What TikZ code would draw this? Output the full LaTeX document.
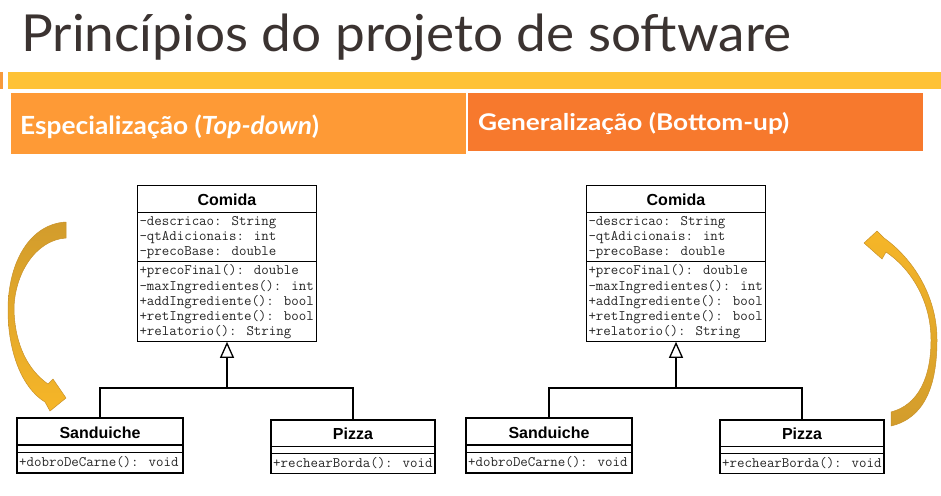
\documentclass[tikz,border=0pt]{standalone}
\usepackage{fontspec}
\setmainfont{Lato}
\newfontfamily\umlfont{Liberation Sans}
\usetikzlibrary{arrows.meta}

\definecolor{titlegray}{HTML}{3B3331}
\definecolor{baryellow}{HTML}{FEC236}
\definecolor{tickorange}{HTML}{F79A3C}
\definecolor{specorange}{HTML}{FE9A36}
\definecolor{genorange}{HTML}{F7792D}
\definecolor{golddark}{HTML}{D29C2C}
\definecolor{goldlight}{HTML}{F6B628}
\definecolor{goldline}{HTML}{C8922A}

% scale a piece of text horizontally to a given width (in pt)
\newsavebox\fitbox
\newdimen\fitw
\newcommand\fitto[2]{%
  \sbox\fitbox{#2}\fitw=\wd\fitbox
  \pgfmathsetmacro\fitratio{#1/\fitw}%
  \scalebox{\fitratio}[1]{\usebox\fitbox}}

\newcommand\umlbold{\umlfont\bfseries\fontsize{16}{19}\selectfont}
\newcommand\umlcode{\ttfamily\fontsize{14.5}{15}\selectfont}

\begin{document}
\begin{tikzpicture}[x=1pt,y=-1pt,
  band/.style={inner sep=0pt, outer sep=0pt, anchor=north west},
  headtext/.style={anchor=base west, inner sep=0pt, text=white},
  classframe/.style={draw=black, line width=1.3pt, fill=white, inner sep=0pt, outer sep=0pt},
  divider/.style={draw=black, line width=1.3pt},
  classname/.style={font=\umlbold, anchor=base, inner sep=0pt},
  codeline/.style={font=\umlcode, anchor=base west, inner sep=0pt, text=black!85},
  conn/.style={draw=black, line width=1.3pt},
  gentip/.style={-{Triangle[open, length=16pt, width=14pt, line width=1.3pt]}},
  goldarrow/.style={draw=goldline, line width=0.5pt, line join=round}]

\useasboundingbox (0,0) rectangle (941,495);
\fill[white] (0,0) rectangle (941,495);

% slide title
\node[anchor=base west, inner sep=0pt, text=titlegray] (title) at (21,52)
  {\fitto{770}{\fontsize{51}{60}\selectfont Princípios do projeto de software}};

% decorative bars
\node[band, fill=tickorange, minimum width=3pt, minimum height=17pt] (tick) at (0,72) {};
\node[band, fill=baryellow, minimum width=933pt, minimum height=17pt] (ybar) at (8,72) {};
\node[band, fill=specorange, minimum width=455pt, minimum height=61pt] (specbar) at (11,93) {};
\node[band, fill=genorange, minimum width=455pt, minimum height=58pt] (genbar) at (468,93) {};

\node[headtext] (spectext) at (20,134)
  {\fitto{299}{\bfseries\fontsize{25}{30}\selectfont Especialização (\textit{Top-down})}};
\node[headtext] (gentext) at (478,130)
  {\fitto{311}{\bfseries\fontsize{23}{28}\selectfont Generalização (Bottom-up)}};

% the two class diagrams
\foreach \s/\dx in {L/0,R/449}{
\begin{scope}[xshift=\dx pt]
  % superclass
  \node[classframe, minimum width=179.4pt, minimum height=156.6pt] (comida\s) at (227,263.5) {};
  \draw[divider] ([yshift=-27pt]comida\s.north west) -- ([yshift=-27pt]comida\s.north east);
  \draw[divider] ([yshift=-76pt]comida\s.north west) -- ([yshift=-76pt]comida\s.north east);
  \node[classname] (comida\s-name) at ([yshift=-20pt]comida\s.north) {Comida};
  \node[codeline] (comida\s-a1) at ([xshift=2pt,yshift=-40pt]comida\s.north west) {-descricao: String};
  \node[codeline] (comida\s-a2) at ([xshift=2pt,yshift=-55pt]comida\s.north west) {-qtAdicionais: int};
  \node[codeline] (comida\s-a3) at ([xshift=2pt,yshift=-70pt]comida\s.north west) {-precoBase: double};
  \node[codeline] (comida\s-m1) at ([xshift=2pt,yshift=-89.5pt]comida\s.north west) {+precoFinal(): double};
  \node[codeline] (comida\s-m2) at ([xshift=2pt,yshift=-104.8pt]comida\s.north west) {-maxIngredientes(): int};
  \node[codeline] (comida\s-m3) at ([xshift=2pt,yshift=-120.1pt]comida\s.north west) {+addIngrediente(): bool};
  \node[codeline] (comida\s-m4) at ([xshift=2pt,yshift=-135.4pt]comida\s.north west) {+retIngrediente(): bool};
  \node[codeline] (comida\s-m5) at ([xshift=2pt,yshift=-150.7pt]comida\s.north west) {+relatorio(): String};

  % subclass Sanduiche
  \node[classframe, minimum width=166pt, minimum height=55pt] (sand\s) at (100,445.5) {};
  \draw[divider] ([yshift=-27pt]sand\s.north west) -- ([yshift=-27pt]sand\s.north east);
  \draw[divider] ([yshift=-34.5pt]sand\s.north west) -- ([yshift=-34.5pt]sand\s.north east);
  \node[classname] (sand\s-name) at ([yshift=-20pt]sand\s.north) {Sanduiche};
  \node[codeline] (sand\s-m1) at ([xshift=2pt,yshift=-48.5pt]sand\s.north west) {+dobroDeCarne(): void};

  % subclass Pizza
  \node[classframe, minimum width=164pt, minimum height=53.5pt] (pizza\s) at (353,446.75) {};
  \draw[divider] ([yshift=-26.5pt]pizza\s.north west) -- ([yshift=-26.5pt]pizza\s.north east);
  \draw[divider] ([yshift=-33.5pt]pizza\s.north west) -- ([yshift=-33.5pt]pizza\s.north east);
  \node[classname] (pizza\s-name) at ([yshift=-19.5pt]pizza\s.north) {Pizza};
  \node[codeline] (pizza\s-m1) at ([xshift=2pt,yshift=-47.5pt]pizza\s.north west) {+rechearBorda(): void};

  % generalization connectors
  \coordinate (junc\s) at (comida\s.south |- 0,388);
  \draw[conn] (sand\s.north) |- (junc\s);
  \draw[conn] (pizza\s.north) |- (junc\s);
  \draw[conn, gentip] (junc\s) -- (comida\s.south);
\end{scope}}

% curved arrow, top-down (left)
\shade[goldarrow, top color=golddark, bottom color=goldlight]
  (66,222) -- (66,238)
  .. controls (35,240) and (14,275) .. (14,310)
  .. controls (15,345) and (28,370) .. (48,384)
  -- (53,379) -- (66,398) -- (50,411) -- (45,402)
  .. controls (22,388) and (8,352) .. (8,310)
  .. controls (8,262) and (30,224) .. (66,222) -- cycle;

% curved arrow, bottom-up (right)
\shade[goldarrow, top color=goldlight, bottom color=golddark]
  (891,426)
  .. controls (925,418) and (937,385) .. (937,340)
  .. controls (937,295) and (912,258) .. (884,238)
  -- (877,231) -- (864,243) -- (882,259) -- (886,252)
  .. controls (910,268) and (931,300) .. (931,340)
  .. controls (931,378) and (918,405) .. (891,412) -- cycle;
\end{tikzpicture}
\end{document}
